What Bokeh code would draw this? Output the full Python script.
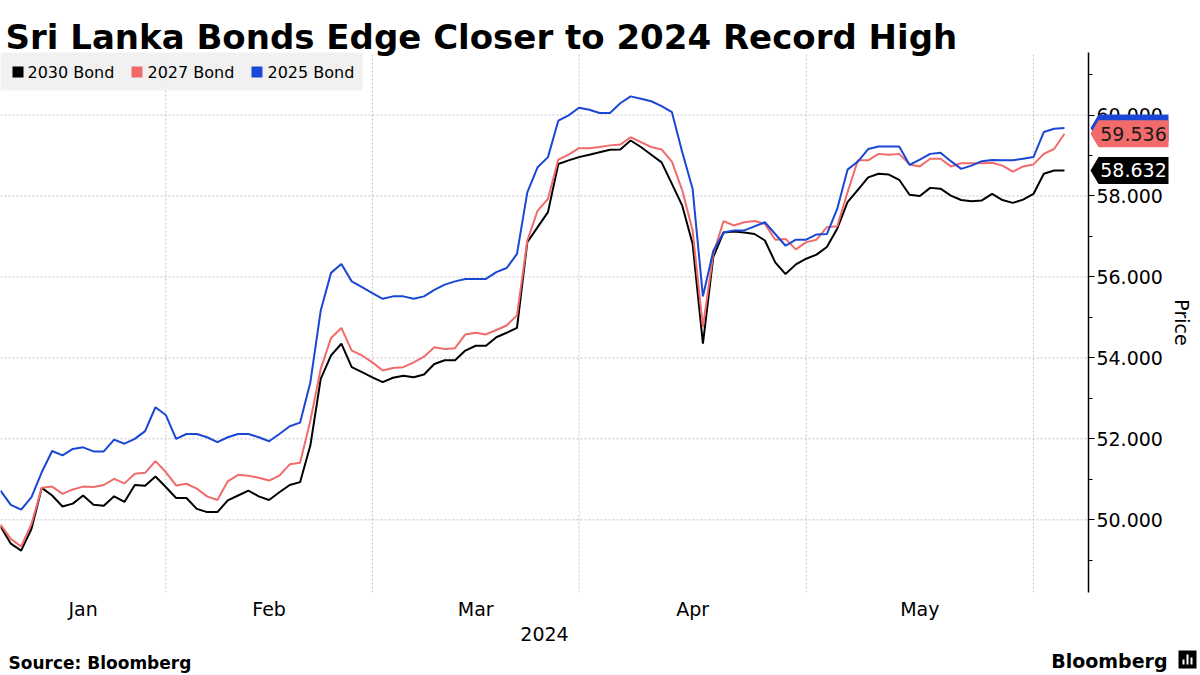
import pandas as pd
from bokeh.plotting import figure
from bokeh.models import (Range1d, FixedTicker, NumeralTickFormatter, Label,
                          PolyAnnotation, BoxAnnotation, Grid, LinearAxis)
from bokeh.embed import file_html
from bokeh.resources import INLINE

# ---------------- data ----------------
holidays = ["2024-01-15", "2024-02-19", "2024-03-29", "2024-05-27"]
dates = [d for d in pd.bdate_range("2024-01-09", "2024-06-06")
         if d.strftime("%Y-%m-%d") not in holidays]

bond_2030 = [49.84, 49.41, 49.24, 49.78, 50.79, 50.60, 50.33, 50.40, 50.60, 50.37,
             50.35, 50.58, 50.44, 50.86, 50.84, 51.07, 50.81, 50.54, 50.54, 50.27,
             50.19, 50.19, 50.48, 50.60, 50.72, 50.58, 50.49, 50.68, 50.86, 50.93,
             51.84, 53.48, 54.06, 54.35, 53.77, 53.65, 53.52, 53.40, 53.51,
             53.56, 53.52, 53.59, 53.85, 53.94, 53.94, 54.18, 54.30, 54.30, 54.51,
             54.62, 54.74, 56.86, 57.23, 57.60, 58.79, 58.88, 58.96, 59.02, 59.08,
             59.14, 59.15, 59.37, 59.21, 59.02, 58.83, 58.30, 57.76, 56.82, 54.35,
             56.49, 57.10, 57.12, 57.10, 57.06, 56.90, 56.36, 56.07, 56.31,
             56.45, 56.55, 56.74, 57.19, 57.85, 58.15, 58.46, 58.55, 58.53, 58.40,
             58.03, 58.00, 58.20, 58.18, 58.01, 57.90, 57.87, 57.89, 58.05, 57.90,
             57.83, 57.91, 58.05, 58.55, 58.63, 58.632]

bond_2027 = [49.88, 49.53, 49.34, 49.90, 50.79, 50.82, 50.64, 50.75, 50.82, 50.81,
             50.86, 51.01, 50.90, 51.14, 51.16, 51.45, 51.18, 50.85, 50.89, 50.77,
             50.58, 50.49, 50.95, 51.11, 51.09, 51.04, 50.97, 51.09, 51.37, 51.41,
             52.45, 53.73, 54.49, 54.74, 54.18, 54.06, 53.89, 53.69, 53.75,
             53.77, 53.89, 54.03, 54.26, 54.22, 54.24, 54.58, 54.62, 54.58, 54.69,
             54.80, 55.05, 56.90, 57.64, 57.93, 58.90, 59.02, 59.18, 59.18, 59.21,
             59.25, 59.27, 59.45, 59.33, 59.21, 59.15, 58.85, 58.14, 57.15, 54.76,
             56.57, 57.38, 57.27, 57.35, 57.38, 57.31, 56.92, 56.94, 56.68,
             56.86, 56.92, 57.23, 57.25, 58.09, 58.88, 58.88, 59.04, 59.02, 59.04,
             58.78, 58.73, 58.92, 58.92, 58.73, 58.81, 58.81, 58.81, 58.82, 58.75,
             58.60, 58.73, 58.78, 59.04, 59.16, 59.536]

bond_2025 = [50.72, 50.37, 50.25, 50.56, 51.18, 51.70, 51.59, 51.75, 51.79, 51.69,
             51.69, 51.98, 51.88, 52.00, 52.19, 52.78, 52.59, 52.00, 52.12, 52.12,
             52.04, 51.92, 52.04, 52.12, 52.12, 52.04, 51.94, 52.12, 52.31, 52.40,
             53.40, 55.17, 56.10, 56.32, 55.89, 55.75, 55.60, 55.46, 55.52,
             55.52, 55.46, 55.52, 55.68, 55.81, 55.89, 55.95, 55.95, 55.95, 56.12,
             56.22, 56.57, 58.09, 58.71, 58.96, 59.86, 59.99, 60.18, 60.13, 60.05,
             60.05, 60.29, 60.46, 60.40, 60.34, 60.22, 60.07, 59.08, 58.18, 55.52,
             56.64, 57.10, 57.15, 57.15, 57.25, 57.35, 57.06, 56.77, 56.92,
             56.92, 57.05, 57.06, 57.68, 58.65, 58.85, 59.16, 59.22, 59.22, 59.22,
             58.77, 58.90, 59.04, 59.07, 58.86, 58.67, 58.75, 58.86, 58.89, 58.88,
             58.88, 58.92, 58.96, 59.58, 59.66, 59.68]

series_names = ["2030 Bond", "2027 Bond", "2025 Bond"]
series_colors = ["#000000", "#f26b6b", "#1a47d4"]
y_ticks = [50, 52, 54, 56, 58, 60]
y_minor = [49, 51, 53, 55, 57, 59, 61]
month_names = ["Jan", "Feb", "Mar", "Apr", "May"]

x = list(range(len(dates)))
n = min(len(x), len(bond_2030), len(bond_2027), len(bond_2025))
x = x[:n]

month_starts = [i for i in range(n) if i == 0 or dates[i].month != dates[i - 1].month]
month_mids = [(month_starts[k] + month_starts[k + 1]) // 2 for k in range(len(month_names))]

FONT = "DejaVu Sans"
W, H = 1200, 675

# data limits of the framed chart area
X_LO, X_HI = 0.0, 105.32
Y_LO, Y_HI = 48.204, 61.544

p = figure(frame_width=W, frame_height=H,
           x_range=Range1d(0, 116.17), y_range=Range1d(46.1536, 62.829),
           output_backend="svg", toolbar_location=None,
           min_border=0, min_border_left=0, min_border_right=0,
           min_border_top=0, min_border_bottom=0,
           outline_line_color=None, background_fill_color="white",
           border_fill_color="white", x_axis_location=None, y_axis_location=None)
# drop the default grids
p.center = [r for r in p.center if not isinstance(r, Grid)]

# value axis on the right edge of the chart area
ya = LinearAxis(fixed_location=X_HI, bounds=(Y_LO, Y_HI))
ya.ticker = FixedTicker(ticks=y_ticks, minor_ticks=y_minor)
ya.formatter = NumeralTickFormatter(format="0.000")
ya.axis_line_color = "black"
ya.axis_line_width = 1.5
ya.major_tick_in = 0
ya.major_tick_out = 6
ya.minor_tick_in = 0
ya.minor_tick_out = 4
ya.major_tick_line_color = "black"
ya.minor_tick_line_color = "black"
ya.major_label_standoff = 2
ya.major_label_text_font = FONT
ya.major_label_text_font_size = "19px"
ya.major_label_text_color = "black"
ya.axis_label = "Price"
ya.axis_label_text_font = FONT
ya.axis_label_text_font_size = "19px"
ya.axis_label_text_font_style = "normal"
ya.axis_label_text_color = "black"
ya.axis_label_standoff = 5
p.add_layout(ya, "right")

# month axis along the bottom of the chart area
xa = LinearAxis(fixed_location=Y_LO, bounds=(X_LO, X_HI))
xa.ticker = FixedTicker(ticks=month_mids)
xa.major_label_overrides = {m: name for m, name in zip(month_mids, month_names)}
xa.axis_line_color = None
xa.major_tick_line_color = None
xa.minor_tick_line_color = None
xa.major_tick_in = 0
xa.major_tick_out = 0
xa.minor_tick_out = 0
xa.major_label_standoff = 5
xa.major_label_text_font = FONT
xa.major_label_text_font_size = "19px"
xa.major_label_text_color = "black"
xa.axis_label = "2024"
xa.axis_label_text_font = FONT
xa.axis_label_text_font_size = "19px"
xa.axis_label_text_font_style = "normal"
xa.axis_label_text_color = "black"
xa.axis_label_standoff = 4
p.add_layout(xa, "below")

# grid lines limited to the chart area
GRID = dict(line_color="#c4c4c4", line_dash="2 2", line_width=1)
p.segment(x0=[X_LO] * len(y_ticks), x1=[X_HI] * len(y_ticks),
          y0=y_ticks, y1=y_ticks, **GRID)
v_lines = month_starts[1:]
p.segment(x0=v_lines, x1=v_lines, y0=[Y_LO] * len(v_lines),
          y1=[Y_HI] * len(v_lines), **GRID)

# lines
all_series = [bond_2030, bond_2027, bond_2025]
for vals, col in zip(all_series, series_colors):
    p.line(x, vals[:n], line_color=col, line_width=2)

def sy(ref_y):
    """screen y (measured up from the canvas bottom) for a pixel row from the top"""
    return H - ref_y

# legend (manual)
p.add_layout(BoxAnnotation(left=0, right=362, top=sy(52), bottom=sy(90),
                           left_units="screen", right_units="screen",
                           top_units="screen", bottom_units="screen",
                           fill_color="#f0f0f0", fill_alpha=0.92, line_color=None))
for (sq_x, tx_x), name, col in zip([(12, 27), (131, 147), (251, 267)],
                                   series_names, series_colors):
    p.add_layout(BoxAnnotation(left=sq_x, right=sq_x + 11, top=sy(66), bottom=sy(77),
                               left_units="screen", right_units="screen",
                               top_units="screen", bottom_units="screen",
                               fill_color=col, fill_alpha=1, line_color=None))
    p.add_layout(Label(x=tx_x, y=sy(72), x_units="screen", y_units="screen",
                       text=name, text_font=FONT, text_font_size="16px",
                       text_color="black", text_baseline="middle", text_align="left"))

# last-value flags on the right axis
half = 0.3335
for vals, col, txt_col, show in [(bond_2025, "#1a47d4", "white", False),
                                 (bond_2027, "#f26b6b", "#1a1a1a", True),
                                 (bond_2030, "#000000", "white", True)]:
    v = vals[n - 1]
    p.add_layout(PolyAnnotation(xs=[1090, 1098, 1168, 1168, 1098],
                                ys=[v, v + half, v + half, v - half, v - half],
                                xs_units="screen", ys_units="data",
                                fill_color=col, fill_alpha=1, line_color=None))
    if show:
        p.add_layout(Label(x=1133, y=v, x_units="screen", y_units="data",
                           text=f"{v:.3f}", text_align="center",
                           text_baseline="middle", text_font=FONT,
                           text_font_size="19px", text_color=txt_col))

# title and footer
p.add_layout(Label(x=5, y=sy(36), x_units="screen", y_units="screen",
                   text="Sri Lanka Bonds Edge Closer to 2024 Record High",
                   text_font=FONT, text_font_style="bold", text_font_size="34px",
                   text_color="black", text_baseline="alphabetic", text_align="left"))
p.add_layout(Label(x=8, y=sy(662), x_units="screen", y_units="screen",
                   text="Source: Bloomberg", text_font=FONT, text_font_style="bold",
                   text_font_size="17px", text_color="black",
                   text_baseline="middle", text_align="left"))
p.add_layout(Label(x=1167, y=sy(660), x_units="screen", y_units="screen",
                   text="Bloomberg", text_font=FONT, text_font_style="bold",
                   text_font_size="19px", text_color="black",
                   text_baseline="middle", text_align="right"))
# small logo mark
p.add_layout(BoxAnnotation(left=1178, right=1196, top=sy(650), bottom=sy(668),
                           left_units="screen", right_units="screen",
                           top_units="screen", bottom_units="screen",
                           fill_color="black", fill_alpha=1, line_color=None))
for bx, btop in [(1182, 659), (1186, 654), (1190, 657)]:
    p.add_layout(BoxAnnotation(left=bx, right=bx + 2, top=sy(btop), bottom=sy(664),
                               left_units="screen", right_units="screen",
                               top_units="screen", bottom_units="screen",
                               fill_color="white", fill_alpha=1, line_color=None))

open("out.html", "w").write(file_html(p, INLINE))
